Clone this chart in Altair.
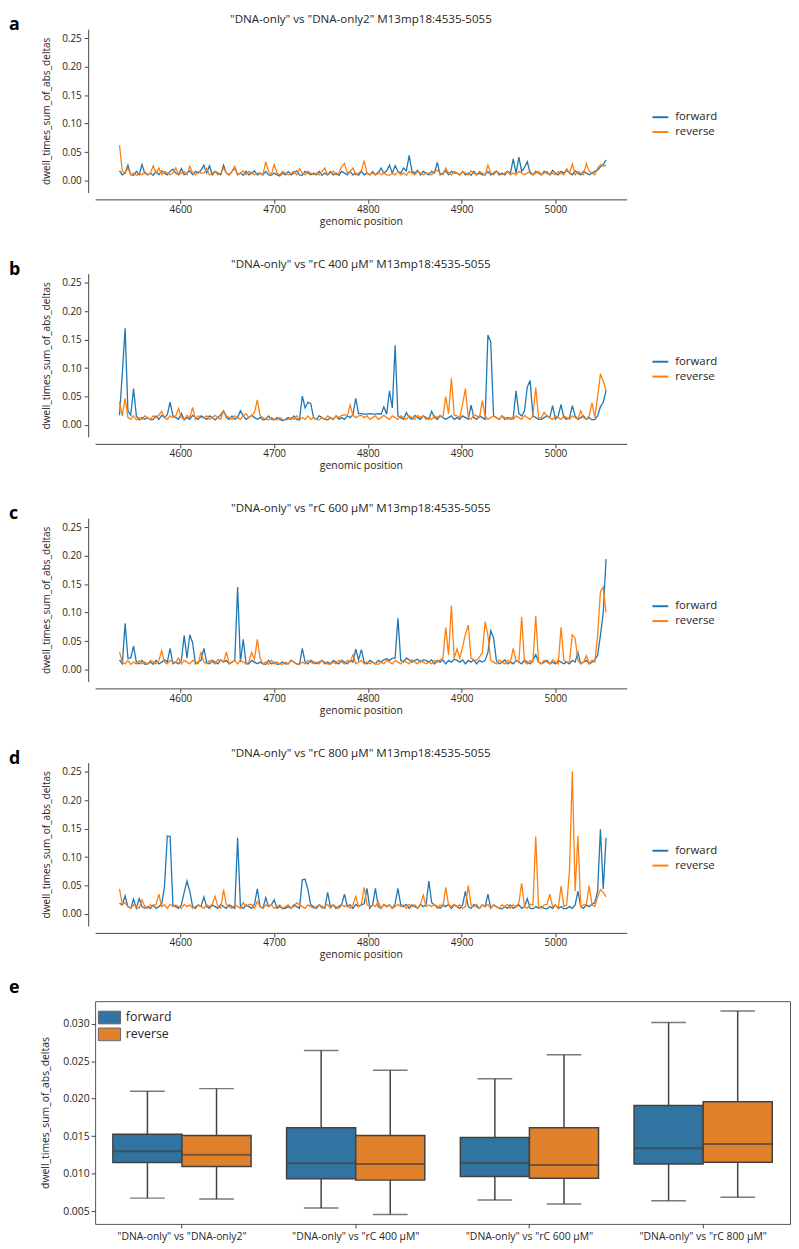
import altair as alt
import pandas as pd

FONT = "Open Sans"
TXT = "#262626"
AX = "#444444"

# genomic positions (every 3rd base of the 4535-5055 window)
positions = list(range(4535, 5055, 3))

# dwell_times_sum_of_abs_deltas, in units of 0.001
a_forward = [
    17, 10, 13, 27, 10, 9, 16, 10, 28, 13,
    10, 13, 9, 16, 10, 17, 13, 10, 16, 20,
    13, 10, 21, 10, 13, 17, 10, 16, 13, 18,
    27, 13, 26, 10, 16, 13, 10, 27, 13, 10,
    16, 22, 10, 13, 9, 16, 10, 13, 17, 10,
    13, 10, 16, 10, 9, 13, 10, 8, 13, 10,
    16, 10, 13, 17, 10, 9, 16, 13, 10, 13,
    10, 16, 9, 13, 10, 16, 10, 13, 9, 16,
    13, 10, 16, 10, 13, 9, 16, 10, 13, 10,
    16, 10, 13, 22, 13, 17, 27, 13, 26, 16,
    13, 22, 17, 44, 16, 13, 18, 10, 16, 13,
    10, 16, 13, 32, 10, 13, 17, 10, 16, 13,
    13, 10, 16, 10, 13, 9, 16, 10, 13, 10,
    10, 16, 10, 13, 17, 10, 13, 10, 16, 13,
    38, 13, 41, 16, 23, 33, 13, 10, 16, 13,
    10, 16, 13, 10, 18, 13, 10, 16, 13, 18,
    13, 10, 17, 13, 10, 16, 13, 10, 13, 16,
    18, 24, 28, 36,
]
a_reverse = [
    62, 16, 13, 22, 10, 13, 9, 13, 10, 16,
    10, 13, 26, 13, 22, 10, 16, 13, 10, 13,
    22, 10, 13, 16, 10, 25, 13, 10, 16, 13,
    13, 21, 10, 13, 16, 10, 13, 22, 13, 10,
    16, 25, 10, 13, 17, 10, 16, 13, 10, 13,
    13, 10, 33, 16, 10, 28, 13, 10, 16, 13,
    10, 13, 16, 10, 21, 13, 10, 16, 13, 10,
    13, 10, 16, 22, 10, 13, 16, 10, 13, 25,
    30, 13, 16, 22, 10, 13, 17, 35, 13, 10,
    13, 10, 16, 10, 13, 10, 9, 13, 10, 16,
    10, 13, 9, 16, 13, 10, 16, 13, 10, 13,
    13, 10, 16, 18, 13, 10, 22, 13, 10, 16,
    13, 10, 16, 13, 10, 17, 13, 10, 16, 13,
    10, 27, 13, 10, 16, 13, 10, 13, 16, 10,
    13, 10, 16, 13, 10, 13, 17, 10, 13, 16,
    10, 13, 16, 10, 13, 10, 16, 13, 10, 21,
    13, 29, 10, 16, 13, 10, 30, 16, 13, 10,
    22, 28, 25, 27,
]
b_forward = [
    17, 90, 170, 25, 17, 64, 16, 9, 13, 10,
    13, 9, 10, 16, 10, 17, 13, 18, 40, 16,
    13, 10, 20, 9, 13, 10, 17, 13, 10, 16,
    13, 10, 16, 13, 9, 13, 18, 25, 13, 10,
    16, 10, 13, 25, 16, 10, 13, 17, 13, 10,
    13, 9, 10, 16, 10, 9, 13, 10, 8, 10,
    13, 10, 16, 10, 9, 51, 30, 40, 38, 13,
    10, 16, 13, 10, 9, 13, 10, 16, 10, 13,
    10, 16, 13, 18, 47, 20, 20, 19, 19, 20,
    19, 19, 20, 19, 32, 19, 60, 30, 140, 16,
    13, 10, 22, 13, 10, 17, 13, 10, 16, 13,
    10, 24, 13, 10, 16, 13, 10, 13, 16, 10,
    13, 10, 16, 13, 10, 35, 13, 10, 16, 13,
    10, 158, 146, 16, 13, 10, 16, 10, 13, 10,
    13, 60, 20, 16, 25, 67, 78, 16, 13, 10,
    10, 13, 16, 13, 34, 10, 16, 36, 13, 10,
    13, 34, 16, 10, 13, 16, 10, 13, 9, 10,
    16, 32, 40, 61,
]
b_reverse = [
    41, 16, 47, 13, 10, 16, 9, 13, 10, 16,
    13, 10, 16, 13, 17, 24, 13, 10, 16, 13,
    16, 29, 13, 10, 17, 13, 31, 10, 16, 13,
    13, 16, 10, 13, 17, 13, 10, 25, 16, 13,
    10, 16, 13, 10, 16, 20, 13, 17, 22, 44,
    16, 13, 10, 9, 13, 10, 9, 13, 10, 9,
    10, 13, 10, 16, 9, 13, 10, 16, 10, 13,
    10, 9, 13, 10, 16, 13, 10, 16, 13, 17,
    18, 16, 35, 17, 13, 16, 17, 13, 16, 10,
    13, 16, 10, 13, 17, 13, 10, 16, 13, 10,
    16, 13, 10, 16, 13, 10, 17, 13, 16, 10,
    13, 10, 16, 13, 17, 13, 50, 20, 82, 17,
    16, 13, 37, 64, 13, 10, 18, 16, 13, 43,
    16, 10, 13, 16, 13, 10, 16, 13, 10, 13,
    10, 16, 13, 10, 17, 13, 10, 16, 66, 13,
    13, 22, 16, 13, 10, 16, 13, 10, 16, 13,
    10, 16, 13, 10, 25, 13, 10, 16, 39, 13,
    50, 90, 77, 61,
]
c_forward = [
    17, 10, 81, 20, 20, 41, 13, 10, 16, 9,
    10, 13, 9, 16, 10, 13, 17, 13, 37, 10,
    13, 10, 16, 60, 20, 61, 47, 10, 13, 16,
    37, 13, 10, 16, 13, 10, 17, 13, 16, 10,
    13, 16, 145, 13, 53, 10, 10, 16, 13, 10,
    13, 10, 9, 16, 10, 13, 9, 10, 13, 10,
    10, 16, 13, 10, 9, 37, 13, 10, 16, 13,
    10, 13, 16, 10, 13, 10, 16, 13, 10, 16,
    13, 10, 16, 13, 36, 17, 35, 13, 10, 16,
    13, 10, 16, 13, 17, 19, 16, 20, 20, 90,
    16, 13, 20, 17, 13, 16, 18, 13, 17, 16,
    13, 17, 10, 16, 13, 17, 10, 16, 13, 18,
    16, 13, 17, 10, 16, 13, 17, 10, 16, 13,
    16, 30, 68, 56, 16, 10, 13, 17, 10, 13,
    10, 16, 13, 10, 17, 13, 10, 16, 26, 13,
    10, 13, 16, 10, 13, 10, 16, 13, 10, 13,
    10, 16, 13, 30, 10, 13, 16, 10, 13, 17,
    25, 60, 100, 194,
]
c_reverse = [
    31, 13, 10, 16, 9, 13, 10, 16, 10, 13,
    10, 16, 13, 10, 16, 33, 13, 10, 16, 13,
    13, 20, 10, 16, 13, 10, 16, 13, 10, 31,
    13, 10, 16, 13, 10, 17, 16, 13, 31, 10,
    13, 16, 10, 17, 13, 10, 13, 30, 18, 53,
    20, 10, 13, 9, 16, 10, 13, 10, 9, 13,
    10, 16, 13, 10, 9, 13, 10, 16, 13, 10,
    13, 10, 16, 13, 10, 9, 13, 10, 16, 13,
    10, 16, 13, 26, 10, 13, 16, 10, 13, 10,
    13, 10, 9, 13, 10, 16, 13, 10, 16, 13,
    10, 16, 13, 10, 17, 13, 10, 16, 13, 10,
    13, 10, 16, 13, 17, 20, 74, 25, 112, 20,
    36, 20, 40, 62, 78, 20, 17, 16, 22, 30,
    84, 60, 16, 13, 10, 17, 13, 10, 16, 13,
    37, 16, 13, 92, 13, 10, 16, 13, 94, 13,
    10, 16, 13, 10, 17, 13, 10, 74, 16, 13,
    13, 61, 55, 16, 10, 13, 24, 10, 16, 13,
    60, 137, 145, 100,
]
d_forward = [
    19, 16, 32, 13, 10, 26, 10, 27, 13, 10,
    13, 10, 16, 10, 13, 17, 48, 137, 136, 16,
    13, 10, 16, 38, 58, 40, 13, 10, 16, 13,
    30, 13, 10, 16, 13, 10, 17, 13, 10, 16,
    13, 10, 134, 13, 10, 16, 13, 10, 17, 44,
    13, 10, 29, 13, 16, 25, 10, 13, 9, 10,
    13, 10, 16, 13, 10, 60, 61, 43, 16, 13,
    10, 16, 13, 10, 38, 13, 16, 10, 13, 17,
    35, 13, 16, 10, 17, 13, 16, 18, 45, 10,
    16, 45, 13, 10, 17, 13, 16, 10, 18, 45,
    16, 13, 17, 10, 16, 13, 10, 17, 13, 16,
    58, 20, 16, 13, 10, 16, 13, 17, 10, 16,
    13, 10, 16, 40, 13, 10, 17, 13, 10, 16,
    13, 35, 10, 16, 13, 10, 9, 13, 10, 16,
    10, 13, 16, 10, 13, 27, 10, 9, 13, 10,
    13, 10, 9, 13, 10, 16, 10, 13, 9, 10,
    13, 10, 16, 40, 13, 10, 16, 13, 17, 20,
    40, 149, 44, 134,
]
d_reverse = [
    44, 17, 20, 13, 10, 16, 13, 10, 25, 13,
    10, 16, 13, 17, 35, 13, 16, 10, 17, 13,
    16, 13, 10, 17, 13, 16, 10, 13, 16, 13,
    10, 16, 13, 17, 31, 13, 10, 43, 16, 13,
    10, 16, 13, 10, 20, 13, 17, 16, 10, 22,
    13, 10, 16, 13, 17, 10, 13, 16, 10, 13,
    16, 10, 13, 20, 16, 13, 10, 16, 13, 10,
    13, 16, 10, 13, 17, 10, 16, 13, 10, 16,
    13, 17, 10, 16, 31, 13, 17, 47, 16, 13,
    16, 13, 22, 10, 17, 13, 16, 10, 13, 17,
    13, 16, 10, 17, 13, 16, 10, 17, 33, 13,
    16, 13, 17, 10, 16, 13, 47, 16, 13, 17,
    13, 16, 10, 13, 50, 16, 13, 17, 10, 16,
    13, 17, 10, 16, 13, 10, 16, 13, 17, 10,
    16, 13, 20, 54, 13, 10, 17, 16, 136, 13,
    10, 16, 17, 35, 13, 16, 10, 49, 13, 16,
    76, 251, 40, 137, 13, 16, 17, 50, 16, 13,
    30, 43, 38, 30,
]

panel_titles = [
    '"DNA-only" vs "DNA-only2" M13mp18:4535-5055',
    '"DNA-only" vs "rC 400 µM" M13mp18:4535-5055',
    '"DNA-only" vs "rC 600 µM" M13mp18:4535-5055',
    '"DNA-only" vs "rC 800 µM" M13mp18:4535-5055',
]
panel_letters = ["a", "b", "c", "d", "e"]
strands = ["forward", "reverse"]
x_ticks = [4600, 4700, 4800, 4900, 5000]
y_ticks = [0.0, 0.05, 0.10, 0.15, 0.20, 0.25]

# box plot statistics (panel e)
box_categories = [
    '"DNA-only" vs "DNA-only2"',
    '"DNA-only" vs "rC 400 µM"',
    '"DNA-only" vs "rC 600 µM"',
    '"DNA-only" vs "rC 800 µM"',
]
fwd_low = [0.00674, 0.00543, 0.00648, 0.00640]
fwd_q1 = [0.01148, 0.00931, 0.00961, 0.01130]
fwd_med = [0.01300, 0.01139, 0.01143, 0.01339]
fwd_q3 = [0.01526, 0.01613, 0.01482, 0.01909]
fwd_high = [0.02100, 0.02643, 0.02265, 0.03017]
rev_low = [0.00661, 0.00457, 0.00596, 0.00687]
rev_q1 = [0.01096, 0.00914, 0.00939, 0.01152]
rev_med = [0.01253, 0.01130, 0.01117, 0.01396]
rev_q3 = [0.01508, 0.01508, 0.01613, 0.01960]
rev_high = [0.02134, 0.02378, 0.02587, 0.03170]
box_y_ticks = [0.005, 0.010, 0.015, 0.020, 0.025, 0.030]

LW, LH = 537, 165


def text_layer(txt, x, y, size, bold=False, align="left"):
    return alt.Chart(pd.DataFrame({"t": [txt]})).mark_text(
        align=align, baseline="middle", fontSize=size,
        fontWeight="bold" if bold else "normal", font=FONT,
        color="black" if bold else TXT,
    ).encode(x=alt.value(x), y=alt.value(y), text="t:N")


def line_panel(fwd, rev, title, letter):
    n = min(len(positions), len(fwd), len(rev))
    df = pd.DataFrame({
        "pos": positions[:n] + positions[:n],
        "val": [v / 1000 for v in fwd[:n]] + [v / 1000 for v in rev[:n]],
        "strand": ["forward"] * n + ["reverse"] * n,
    })
    lines = alt.Chart(df).mark_line(strokeWidth=1.3).encode(
        x=alt.X("pos:Q",
                scale=alt.Scale(domain=[4509, 5076], nice=False, zero=False),
                axis=alt.Axis(title="genomic position", values=x_ticks, format="d",
                              offset=7, grid=False, tickSize=4, labelFontSize=10,
                              labelPadding=1, titleFontSize=10.5, titlePadding=2)),
        y=alt.Y("val:Q",
                scale=alt.Scale(domain=[-0.021, 0.266], nice=False, zero=False),
                axis=alt.Axis(title="dwell_times_sum_of_abs_deltas", values=y_ticks,
                              format=".2f", offset=7, grid=False, tickSize=4,
                              labelFontSize=10, labelPadding=3, titleFontSize=10.2,
                              titlePadding=10)),
        color=alt.Color("strand:N",
                        scale=alt.Scale(domain=strands, range=["#1f77b4", "#ff7f0e"]),
                        legend=alt.Legend(title=None, orient="none", legendX=562,
                                          legendY=80, symbolType="stroke",
                                          symbolSize=256, symbolStrokeWidth=2,
                                          labelFontSize=11.5, rowPadding=0, padding=0,
                                          labelOffset=6)),
        order=alt.Order("pos:Q"),
    )
    return alt.layer(
        lines,
        text_layer(title, LW / 2, -10, 11.7, align="center"),
        text_layer(letter, -87, -4, 18, bold=True),
    ).properties(width=LW, height=LH)


panels = [
    line_panel(a_forward, a_reverse, panel_titles[0], panel_letters[0]),
    line_panel(b_forward, b_reverse, panel_titles[1], panel_letters[1]),
    line_panel(c_forward, c_reverse, panel_titles[2], panel_letters[2]),
    line_panel(d_forward, d_reverse, panel_titles[3], panel_letters[3]),
]

box_df = pd.DataFrame({
    "cat": box_categories * 2,
    "strand": ["forward"] * 4 + ["reverse"] * 4,
    "low": fwd_low + rev_low,
    "q1": fwd_q1 + rev_q1,
    "med": fwd_med + rev_med,
    "q3": fwd_q3 + rev_q3,
    "high": fwd_high + rev_high,
})

bx = alt.X("cat:N", sort=box_categories,
           scale=alt.Scale(paddingInner=0, paddingOuter=0),
           axis=alt.Axis(title=None, labelAngle=0, domain=False, tickSize=4,
                         labelFontSize=10.5, labelPadding=4, grid=False))
bxo = alt.XOffset("strand:N", sort=strands,
                  scale=alt.Scale(paddingInner=0, paddingOuter=0.257))
y_scale = alt.Scale(domain=[0.0033, 0.0330], nice=False, zero=False)
y_axis = alt.Axis(title="dwell_times_sum_of_abs_deltas", values=box_y_ticks,
                  format=".3f", domain=False, tickSize=4, labelFontSize=10.5,
                  labelPadding=2, titleFontSize=10.5, titlePadding=12, grid=False)


def by(field):
    return alt.Y(f"{field}:Q", scale=y_scale, axis=y_axis)


bbase = alt.Chart(box_df)
GRAY = "#424242"
whisk = bbase.mark_rule(color=GRAY, strokeWidth=1.5).encode(
    x=bx, xOffset=bxo, y=by("low"), y2="high:Q")
cap_lo = bbase.mark_tick(color=GRAY, size=35, thickness=1.5).encode(
    x=bx, xOffset=bxo, y=by("low"))
cap_hi = bbase.mark_tick(color=GRAY, size=35, thickness=1.5).encode(
    x=bx, xOffset=bxo, y=by("high"))
boxes = bbase.mark_bar(stroke=GRAY, strokeWidth=1.5).encode(
    x=bx, xOffset=bxo, y=by("q1"), y2="q3:Q",
    color=alt.Color("strand:N",
                    scale=alt.Scale(domain=strands, range=["#3274a1", "#e1812c"]),
                    legend=alt.Legend(title=None, orient="none", legendX=6, legendY=8,
                                      symbolType="M-1.4,-0.8L1.4,-0.8L1.4,0.8L-1.4,0.8Z",
                                      symbolSize=256, symbolStrokeColor="#666666",
                                      symbolStrokeWidth=1, symbolOpacity=1,
                                      labelFontSize=12.5, rowPadding=-1, padding=0,
                                      labelOffset=8)),
)
meds = bbase.mark_tick(color=GRAY, size=70, thickness=2).encode(
    x=bx, xOffset=bxo, y=by("med"))

box_chart = alt.layer(
    whisk, cap_lo, cap_hi, boxes, meds,
    text_layer(panel_letters[4], -87, -13, 18, bold=True),
).properties(
    width=702, height=225,
    view=alt.ViewBackground(stroke="#555555", strokeWidth=1),
)

top = alt.vconcat(*panels, spacing=32).resolve_scale(color="independent").resolve_legend(color="independent")
chart = alt.vconcat(top, box_chart, spacing=18).resolve_scale(
    color="independent").resolve_legend(color="independent").properties(
    padding={"left": 0, "top": 0, "right": 0, "bottom": 0}
).configure_view(stroke=None).configure_axis(
    labelFont=FONT, titleFont=FONT, labelColor=TXT, titleColor=TXT,
    domainColor=AX, tickColor=AX, titleFontWeight="normal"
).configure_legend(labelFont=FONT, labelColor=TXT)

chart.save("out.html", embed_options={"renderer": "svg", "actions": False})
